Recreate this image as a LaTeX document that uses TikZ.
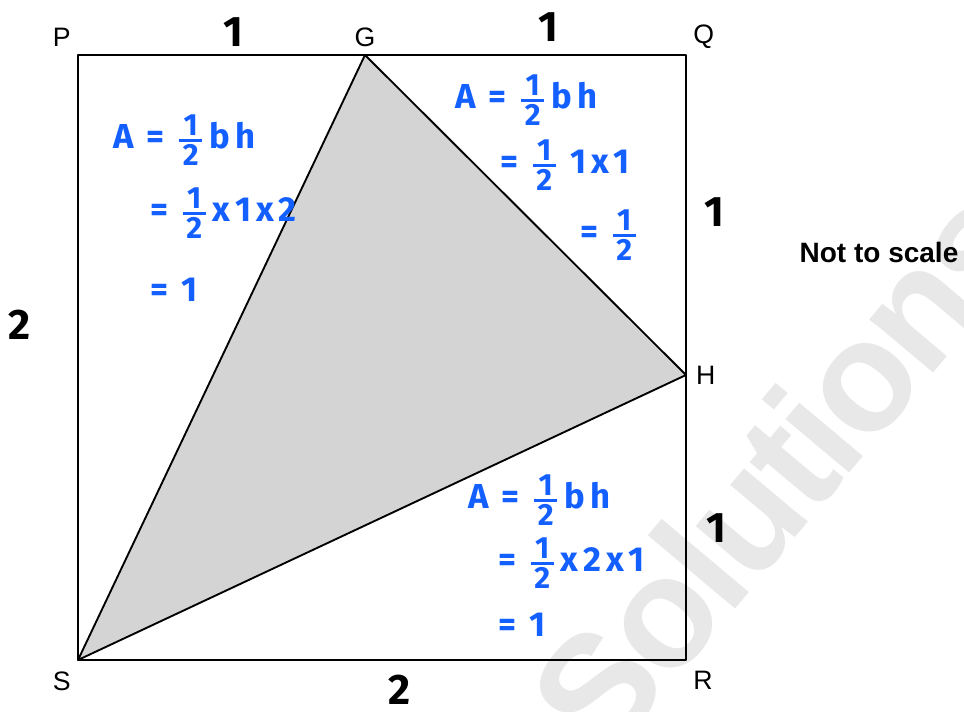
\documentclass[tikz,border=0pt]{standalone}
\usepackage{amsmath}
\usepackage{fontspec}
\setmainfont{Liberation Sans}
\newfontfamily\handfont[LetterSpace=14]{Fira Sans}
\newfontfamily\markfont[LetterSpace=-3]{Liberation Sans}
\newcommand{\hdigit}[1]{\text{\fontsize{23}{23}\selectfont\makebox[17pt]{#1}}}
\newcommand{\hhalf}{$\genfrac{}{}{2pt}{1}{\hdigit{1}}{\hdigit{2}}$}
\usetikzlibrary{positioning}
\definecolor{InkBlue}{RGB}{20,95,255}
\definecolor{ShadeGray}{gray}{0.83}
\definecolor{MarkGray}{gray}{0.91}

\begin{document}
\begin{tikzpicture}[x=0.75pt,y=-0.75pt,font=\fontsize{20}{22}\selectfont]
  \useasboundingbox (0,0) rectangle (964,711);
  \begin{scope}
    \clip (0,0) rectangle (964,711);
    \node[rotate=50,anchor=base west,inner sep=0pt,text=MarkGray,
      font=\markfont\fontsize{118}{118}\selectfont\bfseries] (mark) at (605,765) {Solutions};
  \end{scope}
  \coordinate (P) at (78,55);
  \coordinate (Q) at (686,55);
  \coordinate (R) at (686,660);
  \coordinate (S) at (78,660);
  \coordinate (G) at (365,55);
  \coordinate (H) at (686,375);
  \fill[ShadeGray] (S) -- (G) -- (H) -- cycle;
  \draw[line width=1.4pt,line join=round] (P) -- (Q) -- (R) -- (S) -- cycle;
  \draw[line width=1.4pt,line join=round] (S) -- (G) -- (H) -- cycle;
  \node[above left=3pt and 2pt of P] (lP) {P};
  \node[above=3pt of G] (lG) {G};
  \node[above right=1pt and 2pt of Q] (lQ) {Q};
  \node[right=4pt of H] (lH) {H};
  \node[below right=5pt and 2pt of R] (lR) {R};
  \node[below left=5pt and 2pt of S] (lS) {S};
  \node[font=\fontsize{21}{24}\selectfont\bfseries] (note) at (879,252) {Not to scale};
  % side lengths
  \tikzset{len/.style={font=\handfont\fontsize{32}{34}\selectfont\bfseries}}
  \node[len] (nPG) at (233,32) {1};
  \node[len] (nGQ) at (548,27) {1};
  \node[len] (nQH) at (714,212) {1};
  \node[len] (nHR) at (716,528) {1};
  \node[len] (nPS) at (20,325) {2};
  \node[len] (nSR) at (400,690) {2};
  % working
  \tikzset{work/.style={anchor=west,inner sep=0pt,text=InkBlue,
    font=\handfont\fontsize{26}{28}\selectfont\bfseries}}
  \node[work] (aL1) at (113,140) {A = \hhalf\,bh};
  \node[work] (aL2) at (150,213) {= \hhalf\,x1x2};
  \node[work] (aL3) at (150,290) {= 1};
  \node[work] (aT1) at (455,100) {A = \hhalf\,bh};
  \node[work] (aT2) at (500,165) {= \hhalf\ 1x1};
  \node[work] (aT3) at (580,235) {= \hhalf};
  \node[work] (aB1) at (468,500) {A = \hhalf\,bh};
  \node[work] (aB2) at (498,563) {= \hhalf\,x2x1};
  \node[work] (aB3) at (498,625) {= 1};
\end{tikzpicture}
\end{document}
